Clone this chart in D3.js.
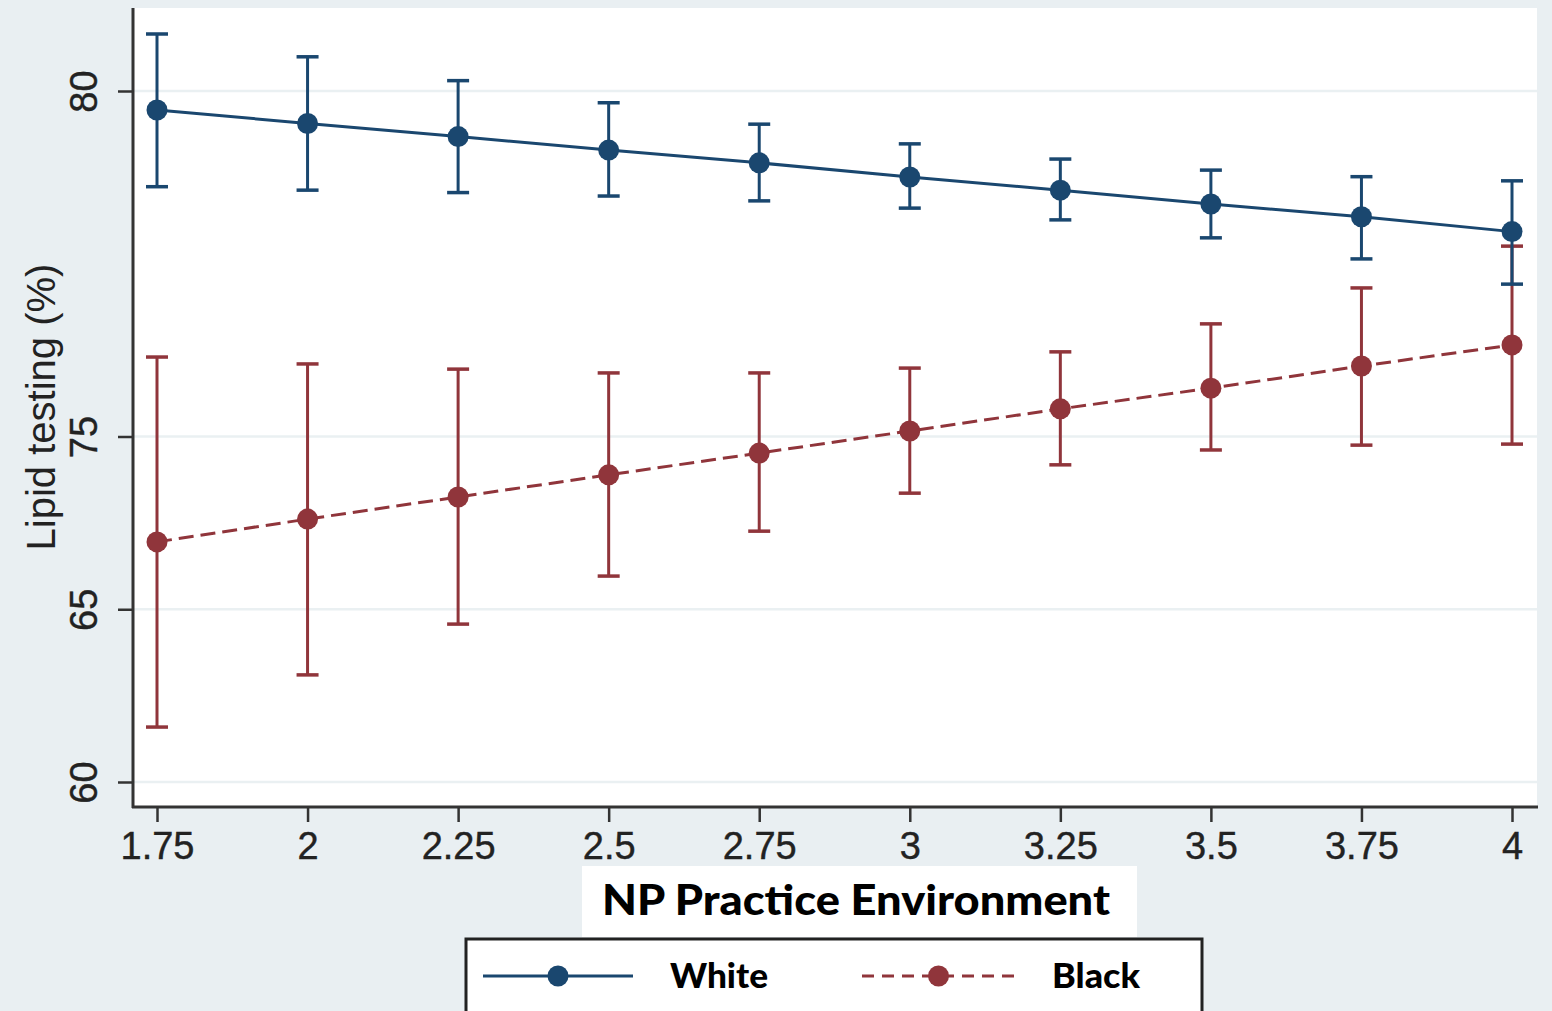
<!DOCTYPE html>
<html>
<head>
<meta charset="utf-8">
<script src="https://cdn.jsdelivr.net/npm/d3@7"></script>
<style>
  body { margin: 0; background: #e9eff2; }
  svg { display: block; }
</style>
</head>
<body>
<svg id="chart" width="1552" height="1011"></svg>
<script>
// Data
var xValues = [1.75, 2, 2.25, 2.5, 2.75, 3, 3.25, 3.5, 3.75, 4];
var xTickLabels = ["1.75", "2", "2.25", "2.5", "2.75", "3", "3.25", "3.5", "3.75", "4"];

var whiteMean = [79.45, 79.06, 78.68, 78.29, 77.92, 77.51, 77.13, 76.73, 76.36, 75.93];
var whiteLo   = [77.23, 77.13, 77.06, 76.96, 76.82, 76.61, 76.27, 75.75, 75.14, 74.41];
var whiteHi   = [81.65, 80.99, 80.30, 79.66, 79.04, 78.47, 78.03, 77.71, 77.52, 77.40];

var blackMean = [66.95, 67.61, 68.25, 68.89, 69.52, 70.16, 70.80, 71.40, 72.04, 72.65];
var blackLo   = [61.59, 63.10, 64.57, 65.96, 67.26, 68.36, 69.18, 69.61, 69.75, 69.78];
var blackHi   = [72.30, 72.10, 71.95, 71.84, 71.84, 71.98, 72.45, 73.26, 74.30, 75.51];

var yTicks = [60, 65, 70, 80];
var yTickLabels = ["60", "65", "75", "80"];

var seriesNames = ["White", "Black"];

var navy = "#1a476f", maroon = "#90353b";

var svg = d3.select("#chart");

// plot region (note: "top" is reserved on window, so use plot* names)
var plotLeft = 133, plotRight = 1537, plotTop = 8, plotBottom = 807;

svg.append("rect")
  .attr("width", 1552).attr("height", 1011)
  .attr("fill", "#e9eff2");

svg.append("rect")
  .attr("x", plotLeft).attr("y", plotTop)
  .attr("width", plotRight - plotLeft).attr("height", plotBottom - plotTop)
  .attr("fill", "#ffffff");

var x = d3.scaleLinear().domain([1.75, 4]).range([plotLeft + 24, plotRight - 25]);
var y = d3.scaleLinear().domain([60, 80]).range([plotBottom - 25, plotTop + 83]);

// grid lines
svg.append("g").selectAll("line")
  .data(yTicks)
  .enter().append("line")
  .attr("x1", plotLeft).attr("x2", plotRight)
  .attr("y1", d => y(d)).attr("y2", d => y(d))
  .attr("stroke", "#eaf0f2")
  .attr("stroke-width", 2.5);

// y axis
var yAxis = svg.append("g")
  .attr("transform", "translate(" + plotLeft + ",0)")
  .call(d3.axisLeft(y).tickValues(yTicks)
    .tickFormat((d, i) => yTickLabels[i])
    .tickSize(15).tickSizeOuter(0));
yAxis.select(".domain").remove();
yAxis.selectAll(".tick line").attr("stroke", "#333").attr("stroke-width", 2.5);
yAxis.selectAll(".tick text")
  .attr("x", null).attr("dy", null)
  .attr("transform", "translate(-36,0) rotate(-90)")
  .attr("text-anchor", "middle")
  .attr("fill", "#222")
  .attr("stroke", "#222").attr("stroke-width", 0.4)
  .style("font", "38px 'Liberation Sans', Arial, sans-serif");

// x axis
var xAxis = svg.append("g")
  .attr("transform", "translate(0," + plotBottom + ")")
  .call(d3.axisBottom(x).tickValues(xValues)
    .tickFormat((d, i) => xTickLabels[i])
    .tickSize(15).tickPadding(10).tickSizeOuter(0));
xAxis.select(".domain").remove();
xAxis.selectAll(".tick line").attr("stroke", "#333").attr("stroke-width", 2.5);
xAxis.selectAll(".tick text")
  .attr("fill", "#222")
  .attr("stroke", "#222").attr("stroke-width", 0.4)
  .style("font", "38px 'Liberation Sans', Arial, sans-serif");

// axis lines
svg.append("line")
  .attr("x1", plotLeft).attr("x2", plotLeft)
  .attr("y1", plotTop).attr("y2", plotBottom + 1)
  .attr("stroke", "#333").attr("stroke-width", 3);
svg.append("line")
  .attr("x1", plotLeft - 1).attr("x2", plotRight + 1)
  .attr("y1", plotBottom).attr("y2", plotBottom)
  .attr("stroke", "#333").attr("stroke-width", 3);

// y title
svg.append("text")
  .attr("transform", "translate(55,407) rotate(-90)")
  .attr("text-anchor", "middle")
  .attr("fill", "#222")
  .style("font", "40px 'Liberation Sans', Arial, sans-serif")
  .text("Lipid testing (%)");

function drawSeries(mean, lo, hi, color, dash) {
  var g = svg.append("g");
  var pts = xValues.map((d, i) => ({ x: d, m: mean[i], lo: lo[i], hi: hi[i] }));

  g.append("path")
    .datum(pts)
    .attr("fill", "none")
    .attr("stroke", color)
    .attr("stroke-width", 3)
    .attr("stroke-dasharray", dash)
    .attr("d", d3.line().x(d => x(d.x)).y(d => y(d.m)));

  g.selectAll(".bar")
    .data(pts)
    .enter().append("line")
    .attr("x1", d => x(d.x)).attr("x2", d => x(d.x))
    .attr("y1", d => y(d.lo)).attr("y2", d => y(d.hi))
    .attr("stroke", color).attr("stroke-width", 3);

  ["lo", "hi"].forEach(function(k) {
    g.selectAll(".cap" + k)
      .data(pts)
      .enter().append("line")
      .attr("x1", d => x(d.x) - 11).attr("x2", d => x(d.x) + 11)
      .attr("y1", d => y(d[k])).attr("y2", d => y(d[k]))
      .attr("stroke", color).attr("stroke-width", 3.5);
  });

  g.selectAll("circle")
    .data(pts)
    .enter().append("circle")
    .attr("cx", d => x(d.x)).attr("cy", d => y(d.m))
    .attr("r", 10.5)
    .attr("fill", color);
}

drawSeries(blackMean, blackLo, blackHi, maroon, "15,7");
drawSeries(whiteMean, whiteLo, whiteHi, navy, null);

// x title on white box
svg.append("rect")
  .attr("x", 582).attr("y", 866)
  .attr("width", 555).attr("height", 71)
  .attr("fill", "#ffffff");
svg.append("text")
  .attr("x", 856).attr("y", 915)
  .attr("text-anchor", "middle")
  .attr("textLength", 508)
  .attr("lengthAdjust", "spacingAndGlyphs")
  .attr("fill", "#000")
  .style("font", "900 42px Lato, 'Open Sans', sans-serif")
  .text("NP Practice Environment");

// legend
svg.append("rect")
  .attr("x", 466).attr("y", 939)
  .attr("width", 736).attr("height", 90)
  .attr("fill", "#ffffff")
  .attr("stroke", "#222").attr("stroke-width", 3);

var legend = [
  { name: seriesNames[0], color: navy, dash: null, x0: 483, x1: 633, tx: 670, tw: 98 },
  { name: seriesNames[1], color: maroon, dash: "12,8", x0: 862, x1: 1015, tx: 1052, tw: 88 }
];
var ly = 976;
legend.forEach(function(d) {
  svg.append("line")
    .attr("x1", d.x0).attr("x2", d.x1)
    .attr("y1", ly).attr("y2", ly)
    .attr("stroke", d.color).attr("stroke-width", 3)
    .attr("stroke-dasharray", d.dash);
  svg.append("circle")
    .attr("cx", (d.x0 + d.x1) / 2).attr("cy", ly)
    .attr("r", 10.5).attr("fill", d.color);
  svg.append("text")
    .attr("x", d.tx).attr("y", 988)
    .attr("textLength", d.tw)
    .attr("lengthAdjust", "spacingAndGlyphs")
    .attr("fill", "#000")
    .style("font", "900 34px Lato, 'Open Sans', sans-serif")
    .text(d.name);
});
</script>
</body>
</html>
